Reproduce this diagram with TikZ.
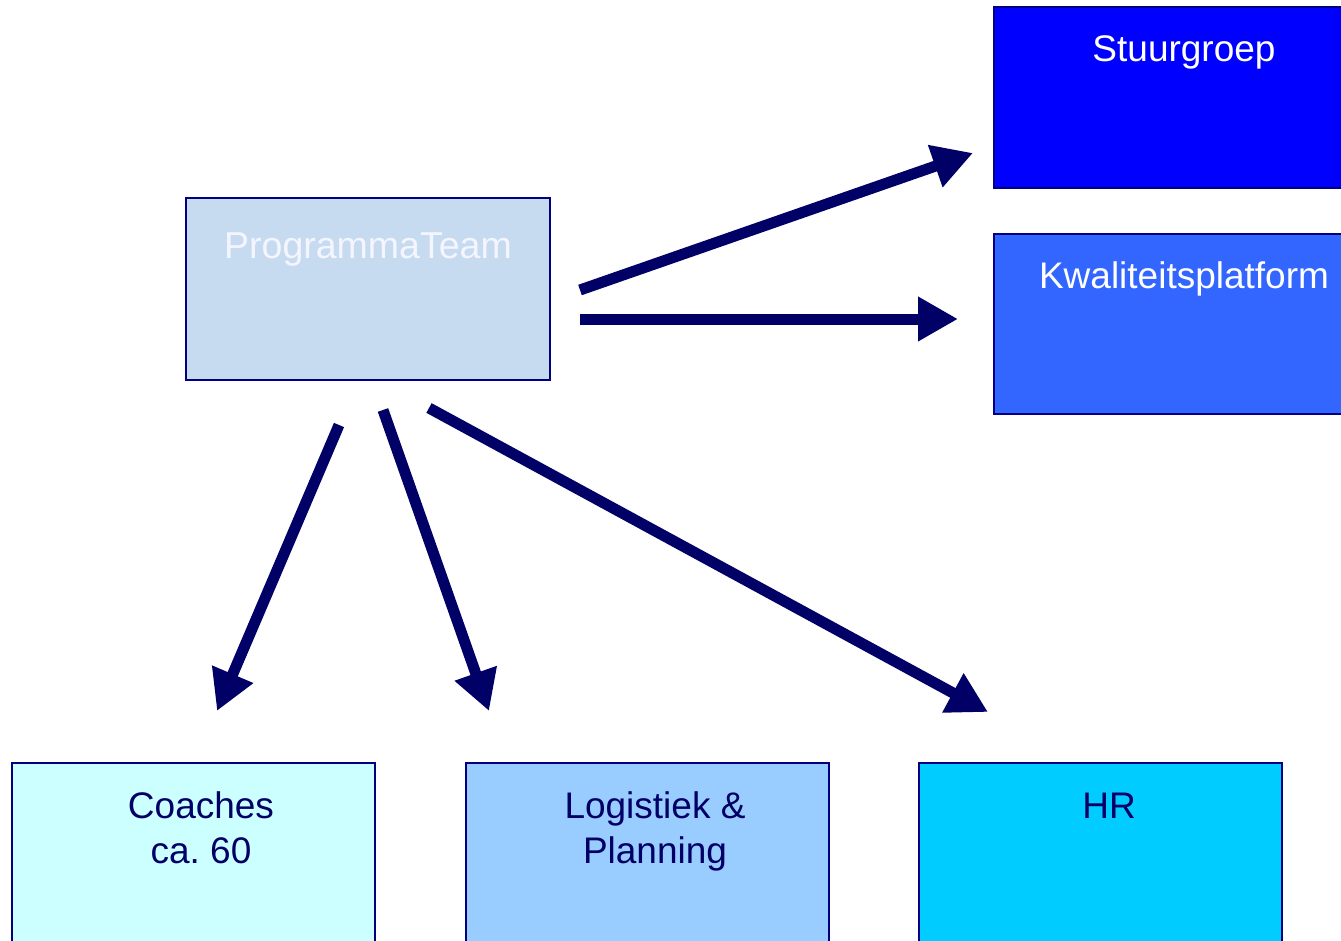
\documentclass[tikz,border=0pt]{standalone}
\usepackage{fontspec}
\setmainfont{Liberation Sans}
\usetikzlibrary{arrows.meta}
\definecolor{navy}{HTML}{000066}
\definecolor{edge}{HTML}{000080}
\definecolor{ptfill}{HTML}{C6DBEF}
\definecolor{sgfill}{HTML}{0000FF}
\definecolor{kpfill}{HTML}{3366FF}
\definecolor{cofill}{HTML}{CCFFFF}
\definecolor{lpfill}{HTML}{99CCFF}
\definecolor{hrfill}{HTML}{00CCFF}
\tikzset{
  box/.style={draw=edge, line width=2pt, rectangle},
  lbl/.style={font=\fontsize{37}{45}\selectfont, align=center, inner sep=0pt, anchor=base},
  bigarrow/.style={draw=navy, line width=11pt, -{Triangle[length=40pt,width=42pt]}}
}
\begin{document}
\frenchspacing
\begin{tikzpicture}[x=1pt,y=-1pt]
\useasboundingbox (0,0) rectangle (1341,941);
\begin{scope}
\clip (0,0) rectangle (1341,941);
% boxes
\path[box, fill=ptfill] (186,198) rectangle (550,380);
\path[box, fill=sgfill] (994,7) rectangle (1380,188);
\path[box, fill=kpfill] (994,234) rectangle (1380,414);
\path[box, fill=cofill] (12,763) rectangle (375,960);
\path[box, fill=lpfill] (466,763) rectangle (829,960);
\path[box, fill=hrfill] (919,763) rectangle (1282,960);
\end{scope}
% labels
\node[lbl, text=white!96!blue, font=\fontsize{37.5}{45}\selectfont] (pt) at (368,259) {ProgrammaTeam};
\node[lbl, text=white] (sg) at (1184,62) {Stuurgroep};
\node[lbl, text=white] (kp) at (1184,289) {Kwaliteitsplatform};
\node[lbl, text=navy] (co1) at (201,818) {Coaches};
\node[lbl, text=navy] (co2) at (201,863) {ca.\ 60};
\node[lbl, text=navy] (lp1) at (655,818) {Logistiek \&};
\node[lbl, text=navy] (lp2) at (655,863) {Planning};
\node[lbl, text=navy] (hr) at (1109,818) {HR};
% arrow endpoints
\coordinate (a1s) at (580,290); \coordinate (a1e) at (973,153);
\coordinate (a2s) at (580,319); \coordinate (a2e) at (958,319);
\coordinate (a3s) at (339,425); \coordinate (a3e) at (217,711);
\coordinate (a4s) at (383,410); \coordinate (a4e) at (489,711);
\coordinate (a5s) at (429,408); \coordinate (a5e) at (988,712);
\draw[bigarrow] (a1s) -- (a1e);
\draw[bigarrow] (a2s) -- (a2e);
\draw[bigarrow] (a3s) -- (a3e);
\draw[bigarrow] (a4s) -- (a4e);
\draw[bigarrow] (a5s) -- (a5e);
\end{tikzpicture}
\end{document}
